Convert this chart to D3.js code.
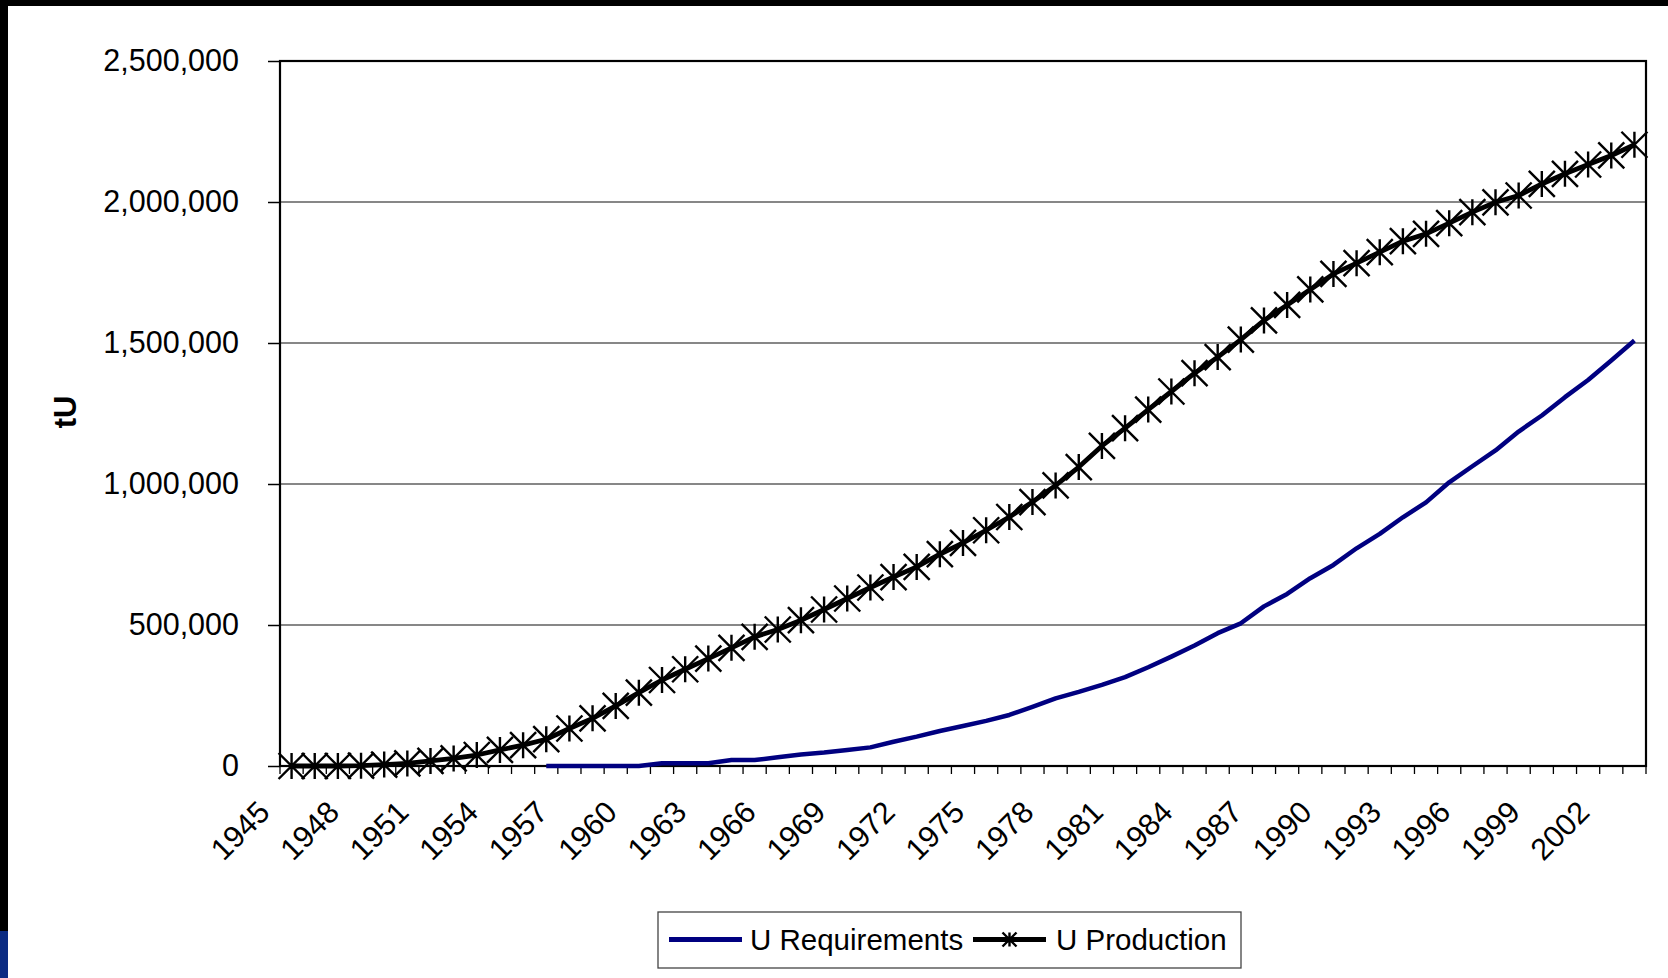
<!DOCTYPE html>
<html>
<head>
<meta charset="utf-8">
<script src="https://cdn.jsdelivr.net/npm/d3@7"></script>
<style>
html,body{margin:0;padding:0;background:#fff;}
svg{display:block;}
text{font-family:"Liberation Sans",Arial,sans-serif;fill:#000;}
</style>
</head>
<body>
<svg id="chart" width="1668" height="978"></svg>
<script>
const years = [1945,1946,1947,1948,1949,1950,1951,1952,1953,1954,1955,1956,1957,1958,1959,
  1960,1961,1962,1963,1964,1965,1966,1967,1968,1969,1970,1971,1972,1973,1974,
  1975,1976,1977,1978,1979,1980,1981,1982,1983,1984,1985,1986,1987,1988,1989,
  1990,1991,1992,1993,1994,1995,1996,1997,1998,1999,2000,2001,2002,2003];

const production = [0,0,0,1000,5000,9000,18000,27000,39000,57000,74000,95000,133000,169000,213000,
  260000,305000,343000,381000,419000,458000,484000,517000,555000,594000,633000,670000,706000,751000,791000,
  836000,883000,936000,995000,1060000,1135000,1198000,1264000,1328000,1393000,1450000,1512000,1580000,1635000,1690000,
  1745000,1783000,1822000,1861000,1887000,1925000,1964000,1999000,2023000,2064000,2100000,2133000,2165000,2203000];

const requirements = [null,null,null,null,null,null,null,null,null,null,null,0,0,0,0,
  0,10000,10000,10000,21000,21000,31000,41000,48000,57000,66000,86000,104000,124000,142000,
  160000,181000,210000,240000,263000,288000,315000,350000,388000,427000,471000,506000,566000,610000,666000,
  713000,772000,823000,882000,935000,1006000,1063000,1119000,1186000,1243000,1308000,1369000,1438000,1509000];

const yTicks = [0,500000,1000000,1500000,2000000,2500000];
const xLabelYears = [1945,1948,1951,1954,1957,1960,1963,1966,1969,1972,1975,1978,1981,1984,1987,1990,1993,1996,1999,2002];
const seriesNames = ["U Requirements","U Production"];
const yTitle = "tU";

const svg = d3.select("#chart");
const W = 1668, H = 978;
const L = 280, R = 1646, T = 61, B = 766;

// frame decorations
svg.append("rect").attr("x",0).attr("y",0).attr("width",W).attr("height",H).attr("fill","#fff");
svg.append("rect").attr("x",0).attr("y",0).attr("width",W).attr("height",6).attr("fill","#000");
svg.append("rect").attr("x",0).attr("y",0).attr("width",8).attr("height",931).attr("fill","#000");
svg.append("rect").attr("x",0).attr("y",931).attr("width",8).attr("height",H-931).attr("fill","#0b2b82");

const x = d3.scaleBand().domain(years).range([L,R]).padding(0);
const y = d3.scaleLinear().domain([0,2500000]).range([B,T]);
const cx = d => x(d) + x.bandwidth()/2;

// gridlines
svg.append("g").selectAll("line").data(yTicks.slice(1,-1)).join("line")
  .attr("x1",L).attr("x2",R).attr("y1",d=>y(d)).attr("y2",d=>y(d))
  .attr("stroke","#111").attr("stroke-width",1.2);

// y axis
const yAxis = d3.axisLeft(y).tickValues(yTicks).tickFormat(d3.format(",")).tickSize(12).tickPadding(29);
const gy = svg.append("g").attr("transform",`translate(${L},0)`).call(yAxis);
gy.select(".domain").remove();
gy.selectAll(".tick line").attr("stroke","#000").attr("stroke-width",1.5);
gy.selectAll(".tick text").style("font-size","30.5px").attr("fill","#000");

// x ticks at band boundaries
const bounds = years.map(d => x(d)).concat([R]);
svg.append("g").selectAll("line").data(bounds).join("line")
  .attr("x1",d=>d).attr("x2",d=>d).attr("y1",B).attr("y2",B+8)
  .attr("stroke","#000").attr("stroke-width",1.3);

// x labels
svg.append("g").selectAll("text").data(xLabelYears).join("text")
  .attr("transform",d=>`translate(${cx(d)-20},${B+48}) rotate(-45)`)
  .attr("text-anchor","end")
  .style("font-size","30.5px")
  .text(d=>d);

// plot border
svg.append("rect").attr("x",L).attr("y",T).attr("width",R-L).attr("height",B-T)
  .attr("fill","none").attr("stroke","#000").attr("stroke-width",2.2);

// y title
svg.append("text").attr("transform","translate(76,412) rotate(-90)")
  .attr("text-anchor","middle").style("font-size","31px").style("font-weight","bold").text(yTitle);

// requirements line
const reqData = years.map((d,i)=>({year:d, v:requirements[i]}));
svg.append("path").datum(reqData)
  .attr("d", d3.line().defined(d=>d.v!==null).x(d=>cx(d.year)).y(d=>y(d.v)))
  .attr("fill","none").attr("stroke","#000080").attr("stroke-width",4.5).attr("stroke-linejoin","round");

// production line
const prodData = years.map((d,i)=>({year:d, v:production[i]}));
svg.append("path").datum(prodData)
  .attr("d", d3.line().x(d=>cx(d.year)).y(d=>y(d.v)))
  .attr("fill","none").attr("stroke","#000").attr("stroke-width",4.8).attr("stroke-linejoin","round");

// asterisk markers
function star(s){ return `M${-s},${-s}L${s},${s}M${-s},${s}L${s},${-s}M0,${-s}L0,${s}`; }
svg.append("g").selectAll("path").data(prodData).join("path")
  .attr("transform",d=>`translate(${cx(d.year)},${y(d.v)})`)
  .attr("d",star(13))
  .attr("fill","none").attr("stroke","#000").attr("stroke-width",2.4);

// legend
const lg = svg.append("g");
lg.append("rect").attr("x",658).attr("y",912).attr("width",583).attr("height",56)
  .attr("fill","#fff").attr("stroke","#444").attr("stroke-width",1.3);
lg.append("line").attr("x1",669).attr("x2",742).attr("y1",939.5).attr("y2",939.5)
  .attr("stroke","#000080").attr("stroke-width",5);
lg.append("text").attr("x",750).attr("y",950).style("font-size","29.5px").text(seriesNames[0]);
lg.append("line").attr("x1",973).attr("x2",1046).attr("y1",939.5).attr("y2",939.5)
  .attr("stroke","#000").attr("stroke-width",5);
lg.append("path").attr("transform","translate(1009.5,939.5)").attr("d",star(7))
  .attr("fill","none").attr("stroke","#000").attr("stroke-width",2.4);
lg.append("text").attr("x",1056).attr("y",950).style("font-size","29.5px").text(seriesNames[1]);
</script>
</body>
</html>
